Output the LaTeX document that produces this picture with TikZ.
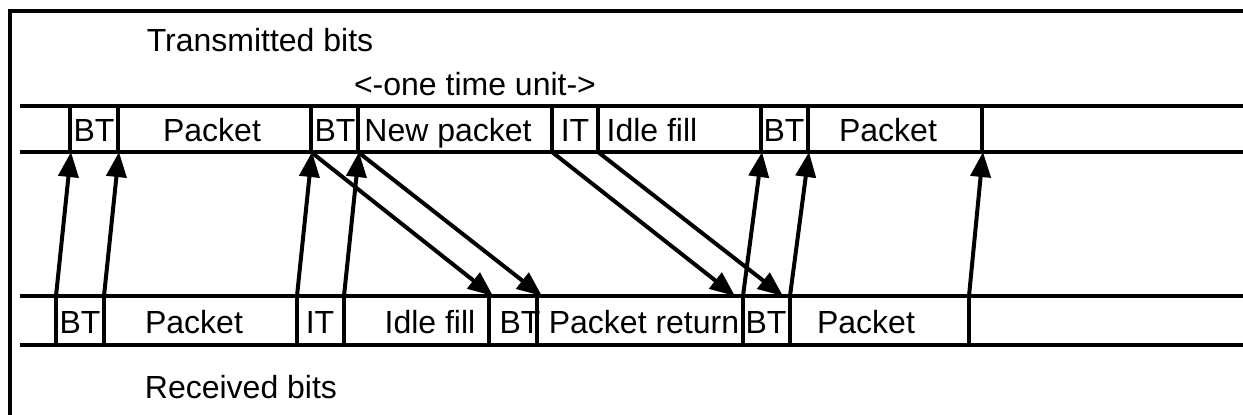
\documentclass[tikz,border=0pt]{standalone}
\usepackage{fontspec}
\setmainfont{Liberation Sans}
\usetikzlibrary{arrows.meta}
\begin{document}
\begin{tikzpicture}[x=1pt,y=-1pt,
  band/.style={line width=3.5pt},
  sep/.style={line width=3.5pt},
  frame/.style={line width=4pt},
  sig/.style={line width=4pt,-{Triangle[length=25pt,width=20pt]}},
  lbl/.style={inner sep=0pt,anchor=base,font=\fontsize{32}{36}\selectfont},
]
\useasboundingbox (0,0) rectangle (1243,415);
% frame
\draw[frame] (10,415) -- (10,11) -- (1243,11);
% bands
\draw[band] (20,106) -- (1243,106);
\draw[band] (20,152) -- (1243,152);
\draw[band] (20,296) -- (1243,296);
\draw[band] (20,345) -- (1243,345);
% top separators
\foreach \n/\x in {A/70,B/118,C/311,D/358,E/552,F/598,G/761,H/808,I/982}{
  \draw[sep] (\x,106) -- (\x,152);
  \coordinate (t\n) at (\x,152);
}
% bottom separators
\foreach \n/\x in {A/56,B/104,C/297,D/344,E/489,F/537,G/743,H/790,I/969}{
  \draw[sep] (\x,296) -- (\x,345);
  \coordinate (b\n) at (\x,296);
}
% texts
\node[lbl] (title) at (260,51) {Transmitted bits};
\node[lbl] (unit) at (475,95) {<-one time unit->};
\node[lbl] (recv) at (241,398) {Received bits};
% top labels
\node[lbl] (t1) at (94,141) {BT};
\node[lbl] (t2) at (212,141) {Packet};
\node[lbl] (t3) at (335,141) {BT};
\node[lbl] (t4) at (448,141) {New packet};
\node[lbl] (t5) at (575,141) {IT};
\node[lbl] (t6) at (652,141) {Idle fill};
\node[lbl] (t7) at (784,141) {BT};
\node[lbl] (t8) at (888,141) {Packet};
% bottom labels
\node[lbl] (b1) at (80,333) {BT};
\node[lbl] (b2) at (194,333) {Packet};
\node[lbl] (b3) at (320,333) {IT};
\node[lbl] (b4) at (430,333) {Idle fill};
\node[lbl] (b5) at (520,333) {BT};
\node[lbl] (b6) at (644,333) {Packet return};
\node[lbl] (b7) at (766,333) {BT};
\node[lbl] (b8) at (866,333) {Packet};
% up arrows
\foreach \n in {A,B,C,D,G,H,I}{
  \draw[sig] (b\n) -- ([xshift=1pt]t\n);
}
% down arrows
\draw[sig] (tC) -- ([xshift=4pt]bE);
\draw[sig] (tD) -- ([xshift=5pt]bF);
\draw[sig] (tE) -- ([xshift=-8pt]bG);
\draw[sig] (tF) -- ([xshift=-7pt]bH);
\end{tikzpicture}
\end{document}
